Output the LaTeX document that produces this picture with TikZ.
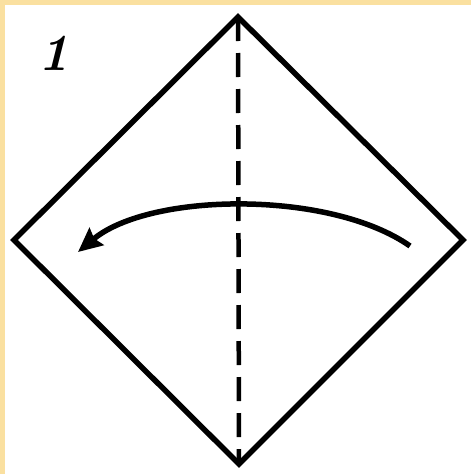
\documentclass[tikz,border=0pt]{standalone}
\usepackage{xcolor}
\usepackage{tikz}
\usetikzlibrary{arrows.meta}
\definecolor{frameyel}{RGB}{250,224,160}

\begin{document}
\begin{tikzpicture}[
  x=1pt, y=-1pt,
  fold/.style={line width=5.5pt,line join=miter,black},
  crease/.style={line width=4.5pt,dash pattern=on 24pt off 12pt,black},
  turn/.style={line width=5.5pt,-{Stealth[length=24pt,width=22pt,inset=3pt]},black},
  stepno/.style={font=\fontsize{52}{52}\selectfont\itshape\bfseries,inner sep=0pt}
]
% frame
\fill[white] (0,0) rectangle (471,474);
\fill[frameyel] (0,0) rectangle (471,5);
\fill[frameyel] (0,0) rectangle (5,474);
\useasboundingbox (0,0) rectangle (471,474);

% square paper, corner up
\coordinate (top) at (238,17);
\coordinate (lft) at (14,240);
\coordinate (rgt) at (463,240);
\coordinate (bot) at (239,464);
\draw[fold] (top) -- (rgt) -- (bot) -- (lft) -- cycle;

% valley fold line
\draw[crease] (top) -- (bot);

% fold right half over
\coordinate (from) at (410,246);
\coordinate (to) at (78,252);
\draw[turn] (from) .. controls (330,190) and (150,192) .. (to);

% step number
\node[stepno] (num) at (54,53) {1};
\end{tikzpicture}
\end{document}
